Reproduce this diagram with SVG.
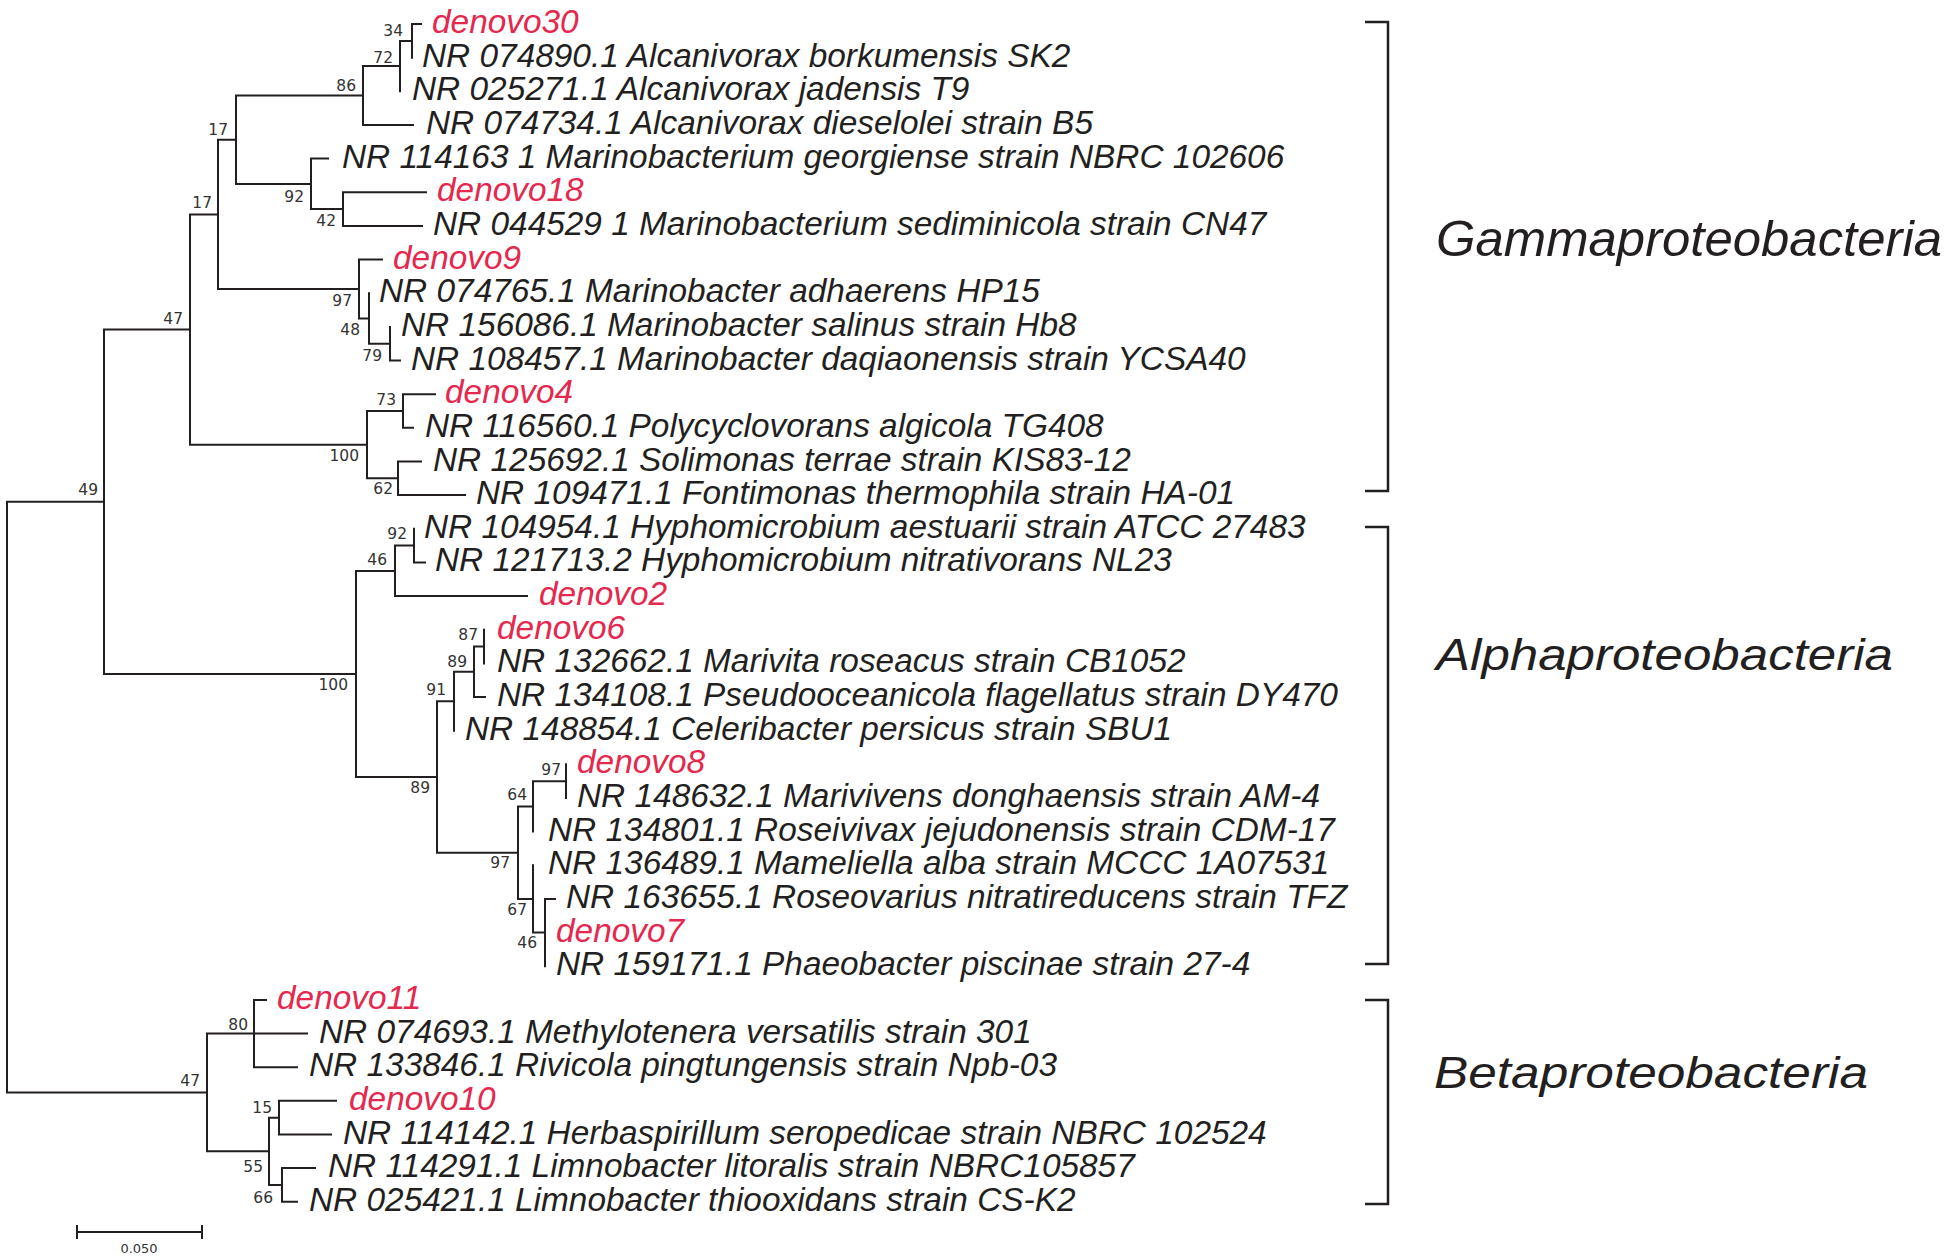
<svg xmlns="http://www.w3.org/2000/svg" width="1950" height="1260" viewBox="0 0 1950 1260">
<style>
.br{fill:none;stroke:#231F20;stroke-width:2;stroke-linecap:square}
.bk{fill:none;stroke:#231F20;stroke-width:2.5}
.lf{font-family:"Liberation Sans",Arial,sans-serif;font-style:italic;font-size:33.4px;fill:#231F20}
.dn{fill:#E4284E}
.bs{font-family:"DejaVu Sans",Verdana,sans-serif;font-size:15.5px;fill:#333;text-anchor:end}
.grp{font-family:"Liberation Sans",Arial,sans-serif;font-style:italic;fill:#231F20}
.sc{font-family:"DejaVu Sans",Verdana,sans-serif;font-size:13px;fill:#333;text-anchor:middle}
</style>
<rect width="1950" height="1260" fill="#fff"/>
<g id="connectors">
<path class="br" d="M7,501.8V1092.4M7,501.8H104M7,1092.4H207
M104,329.5V674M104,329.5H190M104,674H356
M190,214.4V444.7M190,214.4H218M190,444.7H367
M218,139.7V289M218,139.7H236M218,289H359
M236,95.5V183.9M236,95.5H363M236,183.9H311
M363,66.1V125M363,66.1H400M363,125H413
M400,40.9V91.3M400,40.9H412
M412,24V57.7M412,24H421
M311,158.6V209.1M311,158.6H328M311,209.1H343
M343,192.3V225.9M343,192.3H426M343,225.9H422
M359,259.6V318.4M359,259.6H382M359,318.4H369
M369,293.2V343.7M369,343.7H390
M390,326.9V360.5M390,360.5H400
M367,411V478.3M367,411H403M367,478.3H398
M403,394.2V427.8M403,394.2H435M403,427.8H413
M398,461.5V495.1M398,461.5H421M398,495.1H465
M356,570.9V777M356,570.9H395M356,777H437
M395,545.6V596.1M395,545.6H414M395,596.1H527
M414,528.8V562.4M414,562.4H425
M437,701.2V852.7M437,701.2H454M437,852.7H518
M454,671.8V730.7M454,671.8H474
M474,646.6V697M474,646.6H484M474,697H485
M484,629.7V663.4
M518,806.4V899M518,806.4H533M518,899H533
M533,781.2V831.6M533,781.2H566
M566,764.3V798
M533,865.3V932.6M533,932.6H545
M545,898.9V966.2M545,898.9H555
M207,1033.5V1151.3M207,1033.5H254M207,1151.3H269
M254,999.9V1067.2M254,999.9H266M254,1033.5H307M254,1067.2H297
M269,1117.7V1185M269,1117.7H279M269,1185H282
M279,1100.8V1134.5M279,1100.8H336M279,1134.5H331
M282,1168.1V1201.8M282,1168.1H315M282,1201.8H297"/>
</g>
<g id="leaves">
<g id="leaf-denovo30"><text class="lf dn" x="432" y="33">denovo30</text></g>
<g id="leaf-NR074890"><text class="lf" x="422" y="66.7">NR 074890.1 Alcanivorax borkumensis SK2</text></g>
<g id="leaf-NR025271"><text class="lf" x="412" y="100.3">NR 025271.1 Alcanivorax jadensis T9</text></g>
<g id="leaf-NR074734"><text class="lf" x="426" y="134">NR 074734.1 Alcanivorax dieselolei strain B5</text></g>
<g id="leaf-NR114163"><text class="lf" x="342" y="167.6">NR 114163 1 Marinobacterium georgiense strain NBRC 102606</text></g>
<g id="leaf-denovo18"><text class="lf dn" x="437" y="201.3">denovo18</text></g>
<g id="leaf-NR044529"><text class="lf" x="433" y="234.9">NR 044529 1 Marinobacterium sediminicola strain CN47</text></g>
<g id="leaf-denovo9"><text class="lf dn" x="393" y="268.6">denovo9</text></g>
<g id="leaf-NR074765"><text class="lf" x="379" y="302.2">NR 074765.1 Marinobacter adhaerens HP15</text></g>
<g id="leaf-NR156086"><text class="lf" x="401" y="335.9">NR 156086.1 Marinobacter salinus strain Hb8</text></g>
<g id="leaf-NR108457"><text class="lf" x="411" y="369.5">NR 108457.1 Marinobacter daqiaonensis strain YCSA40</text></g>
<g id="leaf-denovo4"><text class="lf dn" x="445" y="403.2">denovo4</text></g>
<g id="leaf-NR116560"><text class="lf" x="425" y="436.8">NR 116560.1 Polycyclovorans algicola TG408</text></g>
<g id="leaf-NR125692"><text class="lf" x="433" y="470.5">NR 125692.1 Solimonas terrae strain KIS83-12</text></g>
<g id="leaf-NR109471"><text class="lf" x="476" y="504.1">NR 109471.1 Fontimonas thermophila strain HA-01</text></g>
<g id="leaf-NR104954"><text class="lf" x="424" y="537.8">NR 104954.1 Hyphomicrobium aestuarii strain ATCC 27483</text></g>
<g id="leaf-NR121713"><text class="lf" x="435" y="571.4">NR 121713.2 Hyphomicrobium nitrativorans NL23</text></g>
<g id="leaf-denovo2"><text class="lf dn" x="539" y="605.1">denovo2</text></g>
<g id="leaf-denovo6"><text class="lf dn" x="497" y="638.7">denovo6</text></g>
<g id="leaf-NR132662"><text class="lf" x="497" y="672.4">NR 132662.1 Marivita roseacus strain CB1052</text></g>
<g id="leaf-NR134108"><text class="lf" x="497" y="706">NR 134108.1 Pseudooceanicola flagellatus strain DY470</text></g>
<g id="leaf-NR148854"><text class="lf" x="465" y="739.7">NR 148854.1 Celeribacter persicus strain SBU1</text></g>
<g id="leaf-denovo8"><text class="lf dn" x="577" y="773.3">denovo8</text></g>
<g id="leaf-NR148632"><text class="lf" x="577" y="807">NR 148632.1 Marivivens donghaensis strain AM-4</text></g>
<g id="leaf-NR134801"><text class="lf" x="548" y="840.6">NR 134801.1 Roseivivax jejudonensis strain CDM-17</text></g>
<g id="leaf-NR136489"><text class="lf" x="548" y="874.3">NR 136489.1 Mameliella alba strain MCCC 1A07531</text></g>
<g id="leaf-NR163655"><text class="lf" x="566" y="907.9">NR 163655.1 Roseovarius nitratireducens strain TFZ</text></g>
<g id="leaf-denovo7"><text class="lf dn" x="556" y="941.6">denovo7</text></g>
<g id="leaf-NR159171"><text class="lf" x="556" y="975.2">NR 159171.1 Phaeobacter piscinae strain 27-4</text></g>
<g id="leaf-denovo11"><text class="lf dn" x="277" y="1008.9">denovo11</text></g>
<g id="leaf-NR074693"><text class="lf" x="319" y="1042.5">NR 074693.1 Methylotenera versatilis strain 301</text></g>
<g id="leaf-NR133846"><text class="lf" x="309" y="1076.2">NR 133846.1 Rivicola pingtungensis strain Npb-03</text></g>
<g id="leaf-denovo10"><text class="lf dn" x="349" y="1109.8">denovo10</text></g>
<g id="leaf-NR114142"><text class="lf" x="343" y="1143.5">NR 114142.1 Herbaspirillum seropedicae strain NBRC 102524</text></g>
<g id="leaf-NR114291"><text class="lf" x="328" y="1177.1">NR 114291.1 Limnobacter litoralis strain NBRC105857</text></g>
<g id="leaf-NR025421"><text class="lf" x="309" y="1210.8">NR 025421.1 Limnobacter thiooxidans strain CS-K2</text></g>
</g>
<g id="bootstrap">
<text class="bs" x="403" y="36">34</text>
<text class="bs" x="393" y="63">72</text>
<text class="bs" x="356" y="91">86</text>
<text class="bs" x="228" y="135">17</text>
<text class="bs" x="304" y="202">92</text>
<text class="bs" x="336" y="226">42</text>
<text class="bs" x="212" y="208">17</text>
<text class="bs" x="183" y="324">47</text>
<text class="bs" x="98" y="495">49</text>
<text class="bs" x="352" y="306">97</text>
<text class="bs" x="360" y="335">48</text>
<text class="bs" x="382" y="361">79</text>
<text class="bs" x="396" y="405">73</text>
<text class="bs" x="359" y="461">100</text>
<text class="bs" x="393" y="494">62</text>
<text class="bs" x="407" y="539">92</text>
<text class="bs" x="387" y="565">46</text>
<text class="bs" x="348" y="690">100</text>
<text class="bs" x="478" y="640">87</text>
<text class="bs" x="467" y="667">89</text>
<text class="bs" x="446" y="695">91</text>
<text class="bs" x="430" y="793">89</text>
<text class="bs" x="561" y="775">97</text>
<text class="bs" x="527" y="800">64</text>
<text class="bs" x="510" y="868">97</text>
<text class="bs" x="527" y="915">67</text>
<text class="bs" x="537" y="948">46</text>
<text class="bs" x="248" y="1030">80</text>
<text class="bs" x="200" y="1086">47</text>
<text class="bs" x="272" y="1113">15</text>
<text class="bs" x="263" y="1172">55</text>
<text class="bs" x="273" y="1203">66</text>
</g>
<g id="group-gamma">
<path class="bk" d="M1365,22H1388V491H1365"/>
<text class="grp" x="1436" y="256" font-size="50" textLength="506" lengthAdjust="spacingAndGlyphs">Gammaproteobacteria</text>
</g>
<g id="group-alpha">
<path class="bk" d="M1365,527H1388V964H1365"/>
<text class="grp" x="1436" y="670" font-size="44" textLength="457" lengthAdjust="spacingAndGlyphs">Alphaproteobacteria</text>
</g>
<g id="group-beta">
<path class="bk" d="M1365,1000H1388V1204H1365"/>
<text class="grp" x="1434" y="1088" font-size="44" textLength="434" lengthAdjust="spacingAndGlyphs">Betaproteobacteria</text>
</g>
<g id="scale-bar">
<path class="br" d="M77,1232H202M77,1226V1238M202,1226V1238"/>
<text class="sc" x="139" y="1253">0.050</text>
</g>
</svg>
